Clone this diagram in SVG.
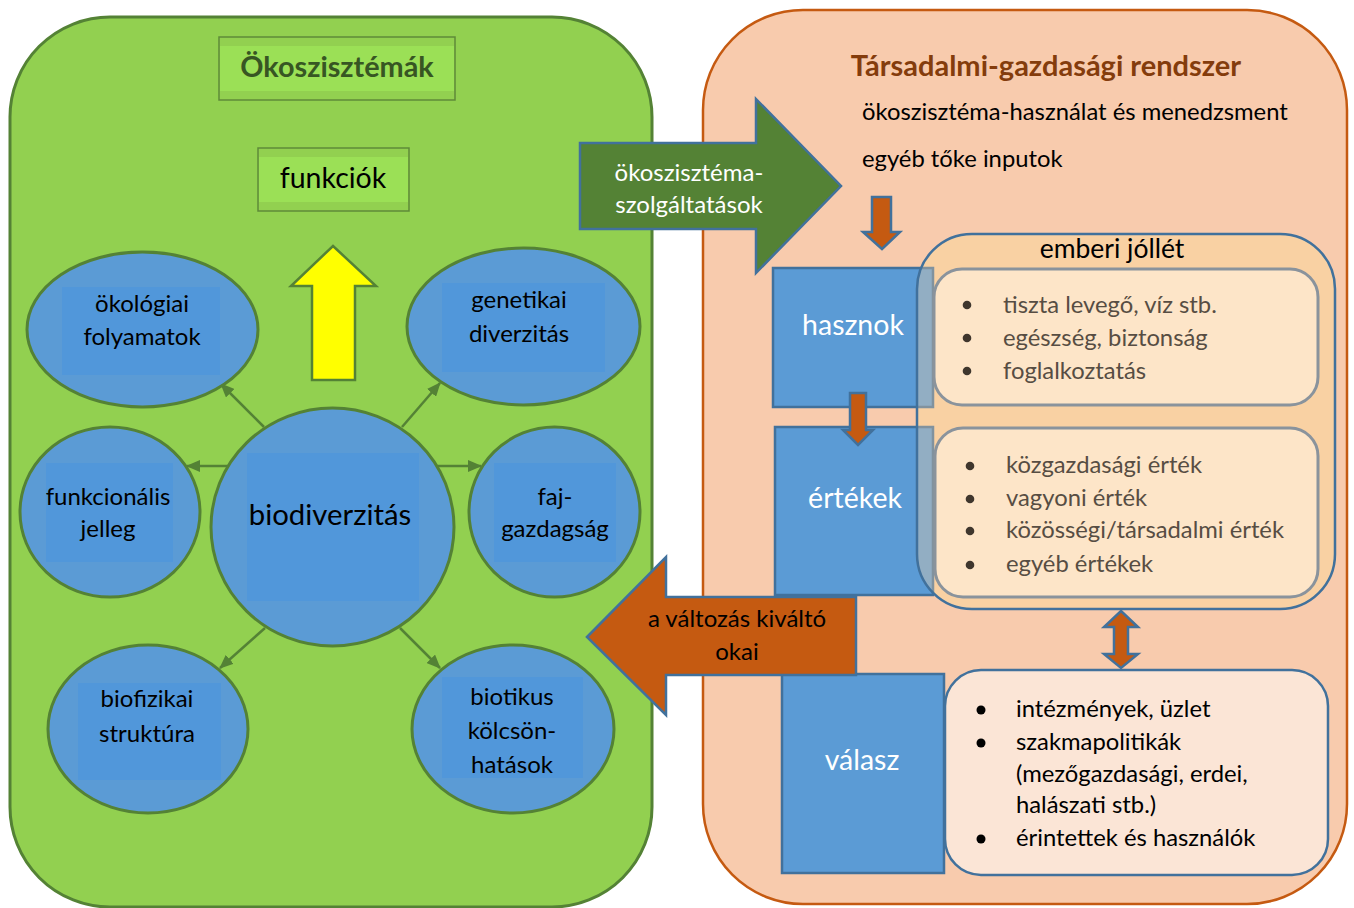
<svg xmlns="http://www.w3.org/2000/svg" width="1354" height="908" viewBox="0 0 1354 908">
<defs>
<style>
text{font-family:Lato,"Open Sans","Liberation Sans",sans-serif}
.ell{fill:#5b9bd5;stroke:#548235;stroke-width:3}
.inr{fill:#5197da}
.et{font-size:24px;fill:#000;text-anchor:middle}
.conn{stroke:#548235;stroke-width:2.5;fill:none}
.blue{fill:#5b9bd5;stroke:#41719c;stroke-width:2.5}
.bt{font-size:28.5px;fill:#fff;text-anchor:middle}
.oar{fill:#c55a11;stroke:#41719c;stroke-width:2.5}
.inb{fill:#fde5c8;stroke:#8a939c;stroke-width:3}
.it{font-size:23.8px;fill:#574d43}
.rt{font-size:23.8px;fill:#000}
.txt{font-size:23.8px;fill:#000}
</style>
<marker id="ah" viewBox="0 0 14 12" refX="13" refY="6" markerWidth="14" markerHeight="12" markerUnits="userSpaceOnUse" orient="auto">
<path d="M0,0 L14,6 L0,12 z" fill="#548235"/>
</marker>
</defs>

<g id="panel-eco">
<rect x="10" y="17" width="642" height="890" rx="100" ry="100" fill="#92d050" stroke="#548235" stroke-width="3"/>
</g>
<g id="panel-soc">
<rect x="703" y="10" width="644" height="894" rx="100" ry="100" fill="#f8cbad" stroke="#c55a11" stroke-width="2.5"/>
</g>

<g id="title-eco">
<rect x="219" y="37" width="236" height="63" fill="#92d050" stroke="#5f8a38" stroke-width="1.5"/>
<rect x="220" y="46" width="234" height="45" fill="#9be056"/>
<text x="337" y="77" font-size="28.8" font-weight="bold" fill="#375623" text-anchor="middle">Ökoszisztémák</text>
</g>
<g id="funkciok">
<rect x="258" y="148" width="151" height="63" fill="#92d050" stroke="#5f8a38" stroke-width="1.5"/>
<rect x="259" y="157" width="149" height="45" fill="#9be056"/>
<text x="333" y="188" font-size="28.5" fill="#000" text-anchor="middle">funkciók</text>
</g>
<g id="yellow-arrow">
<polygon points="333,246 376,286 355,286 355,380 312,380 312,286 291,286" fill="#ffff00" stroke="#548235" stroke-width="2.5"/>
</g>

<g id="connectors">
<line class="conn" x1="264" y1="427" x2="221" y2="384" marker-end="url(#ah)"/>
<line class="conn" x1="402" y1="427" x2="440" y2="383" marker-end="url(#ah)"/>
<line class="conn" x1="228" y1="466" x2="187" y2="466" marker-end="url(#ah)"/>
<line class="conn" x1="437" y1="466" x2="481" y2="466" marker-end="url(#ah)"/>
<line class="conn" x1="265" y1="628" x2="220" y2="668" marker-end="url(#ah)"/>
<line class="conn" x1="400" y1="628" x2="440" y2="668" marker-end="url(#ah)"/>
</g>

<g id="n-okologiai">
<ellipse class="ell" cx="142.5" cy="329.5" rx="115.5" ry="77.5"/>
<rect class="inr" x="62" y="287" width="158" height="88"/>
<text class="et" x="142" y="312">ökológiai</text>
<text class="et" x="142" y="345">folyamatok</text>
</g>
<g id="n-genetikai">
<ellipse class="ell" cx="523.5" cy="326.5" rx="116.5" ry="78.5"/>
<rect class="inr" x="442" y="283" width="163" height="89"/>
<text class="et" x="519" y="308">genetikai</text>
<text class="et" x="519" y="342">diverzitás</text>
</g>
<g id="n-funkcionalis">
<ellipse class="ell" cx="110" cy="512" rx="90" ry="85"/>
<rect class="inr" x="46" y="463" width="127" height="99"/>
<text class="et" x="108" y="505">funkcionális</text>
<text class="et" x="108" y="537">jelleg</text>
</g>
<g id="n-biodiverzitas">
<ellipse class="ell" cx="332.5" cy="527" rx="121.5" ry="119"/>
<rect class="inr" x="247" y="453" width="172" height="148"/>
<text x="330" y="525" font-size="29.3" fill="#000" text-anchor="middle">biodiverzitás</text>
</g>
<g id="n-faj">
<ellipse class="ell" cx="554.5" cy="512" rx="85.5" ry="85"/>
<rect class="inr" x="494" y="463" width="122" height="99"/>
<text class="et" x="555" y="505">faj-</text>
<text class="et" x="555" y="537">gazdagság</text>
</g>
<g id="n-biofizikai">
<ellipse class="ell" cx="148" cy="729" rx="100" ry="84"/>
<rect class="inr" x="78" y="683" width="143" height="97"/>
<text class="et" x="147" y="707">biofizikai</text>
<text class="et" x="147" y="742">struktúra</text>
</g>
<g id="n-biotikus">
<ellipse class="ell" cx="513" cy="729" rx="101" ry="84"/>
<rect class="inr" x="442" y="677" width="141" height="101"/>
<text class="et" x="512" y="705">biotikus</text>
<text class="et" x="512" y="739">kölcsön-</text>
<text class="et" x="512" y="773">hatások</text>
</g>

<g id="title-soc">
<text x="1046" y="76" font-size="29" font-weight="bold" fill="#843c0c" text-anchor="middle">Társadalmi-gazdasági rendszer</text>
<text class="txt" x="862" y="120">ökoszisztéma-használat és menedzsment</text>
<text class="txt" x="862" y="167">egyéb tőke inputok</text>
</g>

<g id="emberi-base">
<rect x="917" y="234" width="418" height="375" rx="55" ry="55" fill="#f9d1a4"/>
</g>

<g id="hasznok">
<rect class="blue" x="773" y="268" width="160" height="139"/>
<text class="bt" x="853" y="335">hasznok</text>
</g>
<g id="ertekek">
<rect class="blue" x="775" y="427" width="158" height="168"/>
<text class="bt" x="855" y="508">értékek</text>
</g>
<g id="valasz">
<rect class="blue" x="782" y="674" width="162" height="199"/>
<text class="bt" x="862" y="770">válasz</text>
</g>

<g id="emberi-jollet">
<rect x="917" y="234" width="418" height="375" rx="55" ry="55" fill="#f9d1a4" fill-opacity="0.35" stroke="#41719c" stroke-width="2.5"/>
<text x="1112" y="258" font-size="26.5" fill="#000" text-anchor="middle">emberi jóllét</text>
</g>

<g id="box-hasznok-list">
<rect class="inb" x="934" y="269" width="384" height="136" rx="28" ry="28"/>
<circle cx="967" cy="305" r="4.3" fill="#3f362d"/>
<circle cx="967" cy="338" r="4.3" fill="#3f362d"/>
<circle cx="967" cy="371" r="4.3" fill="#3f362d"/>
<text class="it" x="1003" y="313">tiszta levegő, víz stb.</text>
<text class="it" x="1003" y="346">egészség, biztonság</text>
<text class="it" x="1003" y="379">foglalkoztatás</text>
</g>
<g id="box-ertekek-list">
<rect class="inb" x="935" y="428" width="383" height="169" rx="28" ry="28"/>
<circle cx="970" cy="466" r="4.3" fill="#3f362d"/>
<circle cx="970" cy="499" r="4.3" fill="#3f362d"/>
<circle cx="970" cy="531" r="4.3" fill="#3f362d"/>
<circle cx="970" cy="565" r="4.3" fill="#3f362d"/>
<text class="it" x="1006" y="473">közgazdasági érték</text>
<text class="it" x="1006" y="506">vagyoni érték</text>
<text class="it" x="1006" y="538">közösségi/társadalmi érték</text>
<text class="it" x="1006" y="572">egyéb értékek</text>
</g>
<g id="box-valasz-list">
<rect x="945" y="670" width="383" height="205" rx="36" ry="36" fill="#fbe5d6" stroke="#41719c" stroke-width="2.5"/>
<circle cx="981" cy="710" r="4.5" fill="#000"/>
<circle cx="981" cy="743" r="4.5" fill="#000"/>
<circle cx="981" cy="839" r="4.5" fill="#000"/>
<text class="rt" x="1016" y="717">intézmények, üzlet</text>
<text class="rt" x="1016" y="750">szakmapolitikák</text>
<text class="rt" x="1016" y="782">(mezőgazdasági, erdei,</text>
<text class="rt" x="1016" y="813">halászati stb.)</text>
<text class="rt" x="1016" y="846">érintettek és használók</text>
</g>

<g id="arrows-soc">
<polygon class="oar" points="872,197 891,197 891,232 900,232 882,249 863,232 872,232"/>
<polygon class="oar" points="850,393 866,393 866,430 873,430 858,445 843,430 850,430"/>
<polygon class="oar" points="1121,611 1138,627 1128,627 1128,654 1138,654 1121,668 1104,654 1114,654 1114,627 1104,627"/>
</g>

<g id="services-arrow">
<polygon points="580,143 756,143 756,99 841,186 756,273 756,229 580,229" fill="#548235" stroke="#41719c" stroke-width="2.5"/>
<text x="689" y="181" font-size="24" fill="#fff" text-anchor="middle">ökoszisztéma-</text>
<text x="689" y="213" font-size="24" fill="#fff" text-anchor="middle">szolgáltatások</text>
</g>
<g id="drivers-arrow">
<polygon points="587,637 666,557 666,597 856,597 856,675 666,675 666,715" fill="#c55a11" stroke="#41719c" stroke-width="2.5"/>
<text x="737" y="627" font-size="24" fill="#000" text-anchor="middle">a változás kiváltó</text>
<text x="737" y="660" font-size="24" fill="#000" text-anchor="middle">okai</text>
</g>
</svg>
